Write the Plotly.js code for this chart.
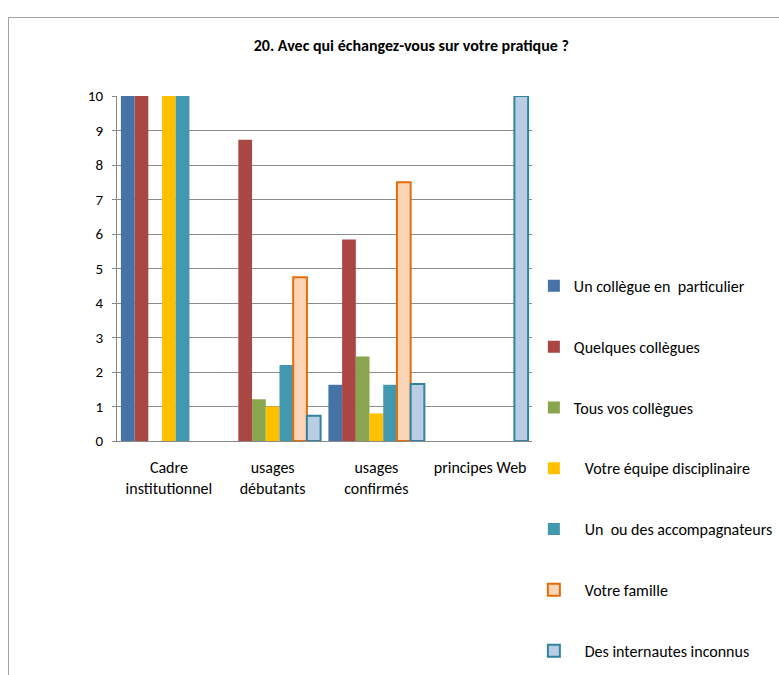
<!DOCTYPE html>
<html><head><meta charset="utf-8">
<script src="https://cdn.plot.ly/plotly-3.0.1.min.js"></script>
<style>
html,body{margin:0;padding:0;background:#fff;}
#frame{position:absolute;left:8px;top:17px;width:900px;height:800px;border:1px solid #a0a0a0;box-sizing:border-box;}
#chart{position:absolute;left:0;top:0;width:779px;height:675px;}
</style></head>
<body>
<div id="frame"></div>
<div id="chart"></div>
<script>
const categories = ["Cadre<br>institutionnel", "usages<br>débutants", "usages<br>confirmés", "principes Web"];
const seriesNames = ["Un collègue en\u00a0 particulier", "Quelques collègues", "Tous vos collègues", "\u00a0\u00a0\u00a0Votre équipe disciplinaire", "\u00a0\u00a0\u00a0Un\u00a0 ou des accompagnateurs", "\u00a0\u00a0\u00a0Votre famille", "\u00a0\u00a0\u00a0Des internautes inconnus"];
const unCollegue = [10, 0, 1.63, 0];
const quelquesCollegues = [10, 8.73, 5.84, 0];
const tousVosCollegues = [0, 1.21, 2.45, 0];
const equipeDisciplinaire = [10, 1.0, 0.8, 0];
const accompagnateurs = [10, 2.2, 1.63, 0];
const famille = [0, 4.75, 7.5, 0];
const internautes = [0, 0.73, 1.65, 10];
const yTicks = [0,1,2,3,4,5,6,7,8,9,10];

const values = [unCollegue, quelquesCollegues, tousVosCollegues, equipeDisciplinaire, accompagnateurs, famille, internautes];
const fills = ["#4572A7", "#AA4643", "#89A54E", "#FFC000", "#4198AF", "#FBD5B5", "#B9CDE5"];
const lines = [null, null, null, null, null, "#E46C0A", "#31849B"];

const traces = values.map((v, i) => ({
  type: "bar",
  name: seriesNames[i],
  x: categories,
  y: v.map(d => d > 0 ? d : null),
  legendgroup: "g" + i,
  marker: {
    color: fills[i],
    line: lines[i] ? {color: lines[i], width: 2} : {width: 0}
  },
  hoverinfo: "none"
}));

const font = "Carlito, 'Liberation Sans Narrow', 'Liberation Sans', Arial, sans-serif";
const layout = {
  width: 779, height: 675,
  paper_bgcolor: "rgba(0,0,0,0)",
  plot_bgcolor: "rgba(0,0,0,0)",
  margin: {l: 117, r: 247, t: 96, b: 234, autoexpand: false},
  barmode: "group",
  bargap: 0.075,
  bargroupgap: 0,
  font: {family: font, size: 16, color: "#000"},
  title: {text: "<b>20. Avec qui échangez-vous sur votre pratique ?</b>", x: 0.528, xanchor: "center", y: 0.933, yanchor: "middle", font: {family: font, size: 16, color: "#000"}},
  xaxis: {showgrid: false, showline: true, linecolor: "#888", linewidth: 1, ticks: "", tickfont: {size: 16}, ticklabelstandoff: 12, fixedrange: true},
  yaxis: {range: [0, 10], tickvals: yTicks, showgrid: true, gridcolor: "#8c8c8c", gridwidth: 1, showline: true, linecolor: "#888", ticks: "outside", ticklen: 4, tickcolor: "#888", tickfont: {size: 15}, ticklabelstandoff: 6, zeroline: false, fixedrange: true},
  showlegend: true,
  legend: {x: 1.0045, xanchor: "left", y: 0.4987, yanchor: "top", tracegroupgap: 37, maxheight: 800, font: {family: font, size: 16}, itemwidth: 30, bgcolor: "rgba(0,0,0,0)"}
};
Plotly.newPlot("chart", traces, layout, {staticPlot: true});
</script>
</body></html>
